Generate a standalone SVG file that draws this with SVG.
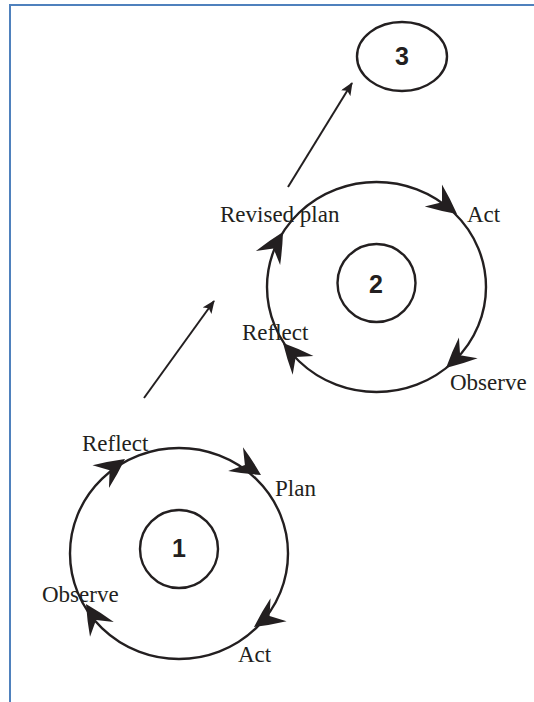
<svg xmlns="http://www.w3.org/2000/svg" width="534" height="702" viewBox="0 0 534 702">
<style>
.frame{stroke:#4f81bd;stroke-width:2;fill:none}
.ring{fill:none;stroke:#231f20;stroke-width:2.4}
.lbl{font-family:"Liberation Serif","Times New Roman",serif;font-size:23px;fill:#231f20}
.num{font-family:"Liberation Sans",Arial,sans-serif;font-weight:bold;font-size:25px;fill:#231f20;text-anchor:middle}
.head{fill:#231f20}
.conn{stroke:#231f20;stroke-width:2;fill:none;marker-end:url(#arr)}
</style>
<defs>
<path id="stealth" d="M0,0 Q-15,-8 -30,-14 L-19,0 L-30,14 Q-15,8 0,0 Z"/>
<marker id="arr" markerWidth="13" markerHeight="11" refX="12" refY="5.5" orient="auto" markerUnits="userSpaceOnUse">
<path d="M0,0 L13,5.5 L0,11 L3,5.5 Z" fill="#231f20"/>
</marker>
</defs>
<path class="frame" d="M9,5 H534 M10,5 V702"/>
<g id="cycle1">
<ellipse class="ring" cx="179" cy="553.5" rx="109" ry="105.5"/>
<use href="#stealth" class="head" transform="translate(261,475) rotate(32)"/>
<use href="#stealth" class="head" transform="translate(254,627) rotate(145)"/>
<use href="#stealth" class="head" transform="translate(86,604) rotate(238)"/>
<use href="#stealth" class="head" transform="translate(125,459) rotate(-36)"/>
<text class="lbl" x="82" y="451">Reflect</text>
<text class="lbl" x="275" y="496">Plan</text>
<text class="lbl" x="238" y="662">Act</text>
<text class="lbl" x="42" y="602">Observe</text>
</g>
<g id="node1">
<circle class="ring" cx="179" cy="549" r="39"/>
<text class="num" x="179" y="557">1</text>
</g>
<g id="cycle2">
<ellipse class="ring" cx="376.5" cy="287" rx="109.5" ry="105"/>
<use href="#stealth" class="head" transform="translate(457,214) rotate(38)"/>
<use href="#stealth" class="head" transform="translate(446,368) rotate(138)"/>
<use href="#stealth" class="head" transform="translate(283,343) rotate(228)"/>
<use href="#stealth" class="head" transform="translate(283,232) rotate(-60)"/>
<text class="lbl" x="220" y="222">Revised plan</text>
<text class="lbl" x="467" y="222">Act</text>
<text class="lbl" x="242" y="340">Reflect</text>
<text class="lbl" x="450" y="390">Observe</text>
</g>
<g id="node2">
<circle class="ring" cx="376.5" cy="283" r="39"/>
<text class="num" x="376" y="293">2</text>
</g>
<g id="node3">
<ellipse class="ring" cx="402" cy="56.5" rx="45" ry="34.5"/>
<text class="num" x="402" y="65">3</text>
</g>
<g id="connectors">
<line class="conn" x1="144" y1="398" x2="214" y2="301"/>
<line class="conn" x1="288" y1="187" x2="352" y2="83"/>
</g>
</svg>
